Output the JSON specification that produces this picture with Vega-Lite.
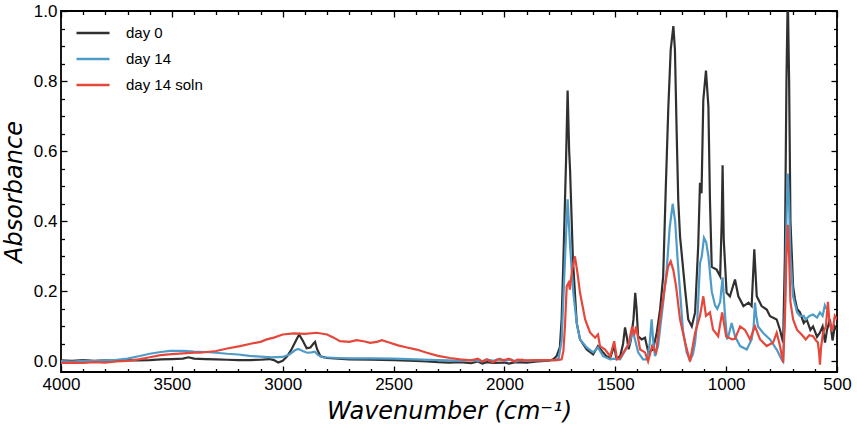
{
  "$schema": "https://vega.github.io/schema/vega-lite/v6.json",
  "width": 776,
  "height": 361,
  "autosize": {"type": "none"},
  "padding": {"left": 61, "top": 11, "right": 20, "bottom": 56},
  "background": "white",
  "config": {
    "view": {"stroke": "#000", "strokeWidth": 1.8},
    "axis": {
      "domain": false,
      "grid": false,
      "labelFont": "Liberation Sans",
      "labelFontSize": 17,
      "labelColor": "#000",
      "labelFlush": false,
      "labelOverlap": false,
      "tickColor": "#000",
      "tickWidth": 1.3,
      "titleFont": "DejaVu Sans",
      "titleFontStyle": "italic",
      "titleFontWeight": "normal",
      "titleFontSize": 24,
      "titleColor": "#000"
    },
    "legend": {
      "orient": "none",
      "legendX": 14,
      "legendY": 4,
      "title": null,
      "symbolType": "stroke",
      "symbolSize": 1089,
      "symbolStrokeWidth": 2.6,
      "labelFont": "Liberation Sans",
      "labelFontSize": 15,
      "labelColor": "#000",
      "labelOffset": 15,
      "rowPadding": -11
    }
  },
  "data": {
    "values": [
      {"s": "day 0", "x": 4000, "y": 0.003}, {"s": "day 0", "x": 3950, "y": 0.002}, {"s": "day 0", "x": 3900, "y": 0.004},
      {"s": "day 0", "x": 3850, "y": 0.002}, {"s": "day 0", "x": 3800, "y": 0.003}, {"s": "day 0", "x": 3750, "y": 0.002},
      {"s": "day 0", "x": 3700, "y": 0.004}, {"s": "day 0", "x": 3650, "y": 0.003}, {"s": "day 0", "x": 3600, "y": 0.004},
      {"s": "day 0", "x": 3550, "y": 0.006}, {"s": "day 0", "x": 3500, "y": 0.007}, {"s": "day 0", "x": 3450, "y": 0.008},
      {"s": "day 0", "x": 3425, "y": 0.012}, {"s": "day 0", "x": 3400, "y": 0.008}, {"s": "day 0", "x": 3350, "y": 0.007},
      {"s": "day 0", "x": 3300, "y": 0.006}, {"s": "day 0", "x": 3250, "y": 0.005}, {"s": "day 0", "x": 3200, "y": 0.004},
      {"s": "day 0", "x": 3150, "y": 0.004}, {"s": "day 0", "x": 3100, "y": 0.005}, {"s": "day 0", "x": 3060, "y": 0.007},
      {"s": "day 0", "x": 3040, "y": 0.004}, {"s": "day 0", "x": 3020, "y": -0.003}, {"s": "day 0", "x": 3000, "y": 0.002},
      {"s": "day 0", "x": 2980, "y": 0.015}, {"s": "day 0", "x": 2960, "y": 0.035}, {"s": "day 0", "x": 2940, "y": 0.06},
      {"s": "day 0", "x": 2926, "y": 0.077}, {"s": "day 0", "x": 2910, "y": 0.06}, {"s": "day 0", "x": 2892, "y": 0.038},
      {"s": "day 0", "x": 2875, "y": 0.04}, {"s": "day 0", "x": 2860, "y": 0.052}, {"s": "day 0", "x": 2854, "y": 0.056},
      {"s": "day 0", "x": 2845, "y": 0.035}, {"s": "day 0", "x": 2830, "y": 0.015}, {"s": "day 0", "x": 2800, "y": 0.01},
      {"s": "day 0", "x": 2750, "y": 0.008}, {"s": "day 0", "x": 2700, "y": 0.006}, {"s": "day 0", "x": 2600, "y": 0.005},
      {"s": "day 0", "x": 2500, "y": 0.004}, {"s": "day 0", "x": 2400, "y": 0.002}, {"s": "day 0", "x": 2350, "y": 0.0},
      {"s": "day 0", "x": 2300, "y": -0.002}, {"s": "day 0", "x": 2250, "y": -0.003}, {"s": "day 0", "x": 2200, "y": -0.002},
      {"s": "day 0", "x": 2150, "y": -0.005}, {"s": "day 0", "x": 2120, "y": 0.0}, {"s": "day 0", "x": 2100, "y": -0.006},
      {"s": "day 0", "x": 2080, "y": -0.002}, {"s": "day 0", "x": 2050, "y": -0.004}, {"s": "day 0", "x": 2000, "y": -0.003},
      {"s": "day 0", "x": 1980, "y": -0.006}, {"s": "day 0", "x": 1950, "y": -0.002}, {"s": "day 0", "x": 1900, "y": -0.003},
      {"s": "day 0", "x": 1850, "y": 0.0}, {"s": "day 0", "x": 1800, "y": 0.002}, {"s": "day 0", "x": 1780, "y": 0.006},
      {"s": "day 0", "x": 1765, "y": 0.015}, {"s": "day 0", "x": 1750, "y": 0.04}, {"s": "day 0", "x": 1742, "y": 0.12},
      {"s": "day 0", "x": 1734, "y": 0.29}, {"s": "day 0", "x": 1722, "y": 0.575}, {"s": "day 0", "x": 1715, "y": 0.773},
      {"s": "day 0", "x": 1708, "y": 0.6}, {"s": "day 0", "x": 1704, "y": 0.547}, {"s": "day 0", "x": 1691, "y": 0.29},
      {"s": "day 0", "x": 1674, "y": 0.11}, {"s": "day 0", "x": 1659, "y": 0.063}, {"s": "day 0", "x": 1629, "y": 0.034},
      {"s": "day 0", "x": 1600, "y": 0.02}, {"s": "day 0", "x": 1578, "y": 0.044}, {"s": "day 0", "x": 1555, "y": 0.026},
      {"s": "day 0", "x": 1540, "y": 0.015}, {"s": "day 0", "x": 1523, "y": 0.01}, {"s": "day 0", "x": 1505, "y": 0.045},
      {"s": "day 0", "x": 1495, "y": 0.008}, {"s": "day 0", "x": 1478, "y": 0.015}, {"s": "day 0", "x": 1465, "y": 0.05},
      {"s": "day 0", "x": 1456, "y": 0.097}, {"s": "day 0", "x": 1448, "y": 0.07}, {"s": "day 0", "x": 1440, "y": 0.035},
      {"s": "day 0", "x": 1430, "y": 0.06}, {"s": "day 0", "x": 1418, "y": 0.12}, {"s": "day 0", "x": 1410, "y": 0.196},
      {"s": "day 0", "x": 1404, "y": 0.15}, {"s": "day 0", "x": 1397, "y": 0.072}, {"s": "day 0", "x": 1381, "y": 0.063},
      {"s": "day 0", "x": 1366, "y": 0.068}, {"s": "day 0", "x": 1351, "y": 0.026}, {"s": "day 0", "x": 1330, "y": 0.034},
      {"s": "day 0", "x": 1313, "y": 0.082}, {"s": "day 0", "x": 1298, "y": 0.148}, {"s": "day 0", "x": 1284, "y": 0.243},
      {"s": "day 0", "x": 1272, "y": 0.5}, {"s": "day 0", "x": 1261, "y": 0.72}, {"s": "day 0", "x": 1250, "y": 0.89},
      {"s": "day 0", "x": 1238, "y": 0.957}, {"s": "day 0", "x": 1231, "y": 0.89}, {"s": "day 0", "x": 1223, "y": 0.65},
      {"s": "day 0", "x": 1216, "y": 0.46}, {"s": "day 0", "x": 1208, "y": 0.357}, {"s": "day 0", "x": 1185, "y": 0.205},
      {"s": "day 0", "x": 1171, "y": 0.12}, {"s": "day 0", "x": 1155, "y": 0.1}, {"s": "day 0", "x": 1140, "y": 0.14},
      {"s": "day 0", "x": 1126, "y": 0.33}, {"s": "day 0", "x": 1118, "y": 0.51}, {"s": "day 0", "x": 1111, "y": 0.48},
      {"s": "day 0", "x": 1103, "y": 0.746}, {"s": "day 0", "x": 1091, "y": 0.83}, {"s": "day 0", "x": 1080, "y": 0.727},
      {"s": "day 0", "x": 1073, "y": 0.46}, {"s": "day 0", "x": 1065, "y": 0.27}, {"s": "day 0", "x": 1043, "y": 0.262},
      {"s": "day 0", "x": 1027, "y": 0.243}, {"s": "day 0", "x": 1020, "y": 0.4}, {"s": "day 0", "x": 1016, "y": 0.56},
      {"s": "day 0", "x": 1011, "y": 0.35}, {"s": "day 0", "x": 998, "y": 0.196}, {"s": "day 0", "x": 983, "y": 0.186},
      {"s": "day 0", "x": 960, "y": 0.234}, {"s": "day 0", "x": 945, "y": 0.186}, {"s": "day 0", "x": 922, "y": 0.158},
      {"s": "day 0", "x": 899, "y": 0.168}, {"s": "day 0", "x": 885, "y": 0.158}, {"s": "day 0", "x": 873, "y": 0.32},
      {"s": "day 0", "x": 862, "y": 0.186}, {"s": "day 0", "x": 840, "y": 0.158}, {"s": "day 0", "x": 817, "y": 0.148},
      {"s": "day 0", "x": 802, "y": 0.129}, {"s": "day 0", "x": 772, "y": 0.12}, {"s": "day 0", "x": 757, "y": 0.09},
      {"s": "day 0", "x": 743, "y": 0.054}, {"s": "day 0", "x": 735, "y": 0.3}, {"s": "day 0", "x": 728, "y": 0.8},
      {"s": "day 0", "x": 722, "y": 1.05}, {"s": "day 0", "x": 716, "y": 0.8}, {"s": "day 0", "x": 710, "y": 0.4},
      {"s": "day 0", "x": 698, "y": 0.214}, {"s": "day 0", "x": 690, "y": 0.18}, {"s": "day 0", "x": 680, "y": 0.15},
      {"s": "day 0", "x": 667, "y": 0.14}, {"s": "day 0", "x": 650, "y": 0.11}, {"s": "day 0", "x": 637, "y": 0.12},
      {"s": "day 0", "x": 620, "y": 0.09}, {"s": "day 0", "x": 608, "y": 0.1}, {"s": "day 0", "x": 590, "y": 0.07},
      {"s": "day 0", "x": 577, "y": 0.082}, {"s": "day 0", "x": 565, "y": 0.1}, {"s": "day 0", "x": 554, "y": 0.054},
      {"s": "day 0", "x": 545, "y": 0.09}, {"s": "day 0", "x": 532, "y": 0.12}, {"s": "day 0", "x": 520, "y": 0.06},
      {"s": "day 0", "x": 510, "y": 0.1}, {"s": "day 0", "x": 500, "y": 0.09},

      {"s": "day 14", "x": 4000, "y": 0.001}, {"s": "day 14", "x": 3950, "y": 0.0}, {"s": "day 14", "x": 3900, "y": 0.002},
      {"s": "day 14", "x": 3850, "y": 0.001}, {"s": "day 14", "x": 3800, "y": 0.003}, {"s": "day 14", "x": 3750, "y": 0.005},
      {"s": "day 14", "x": 3700, "y": 0.008}, {"s": "day 14", "x": 3650, "y": 0.015}, {"s": "day 14", "x": 3600, "y": 0.022},
      {"s": "day 14", "x": 3550, "y": 0.027}, {"s": "day 14", "x": 3508, "y": 0.03}, {"s": "day 14", "x": 3450, "y": 0.03},
      {"s": "day 14", "x": 3400, "y": 0.028}, {"s": "day 14", "x": 3350, "y": 0.027}, {"s": "day 14", "x": 3300, "y": 0.025},
      {"s": "day 14", "x": 3250, "y": 0.022}, {"s": "day 14", "x": 3200, "y": 0.02}, {"s": "day 14", "x": 3150, "y": 0.016},
      {"s": "day 14", "x": 3100, "y": 0.014}, {"s": "day 14", "x": 3050, "y": 0.012}, {"s": "day 14", "x": 3000, "y": 0.013},
      {"s": "day 14", "x": 2970, "y": 0.02}, {"s": "day 14", "x": 2945, "y": 0.032}, {"s": "day 14", "x": 2930, "y": 0.036},
      {"s": "day 14", "x": 2910, "y": 0.03}, {"s": "day 14", "x": 2890, "y": 0.025}, {"s": "day 14", "x": 2870, "y": 0.026},
      {"s": "day 14", "x": 2855, "y": 0.028}, {"s": "day 14", "x": 2840, "y": 0.018}, {"s": "day 14", "x": 2820, "y": 0.012},
      {"s": "day 14", "x": 2750, "y": 0.01}, {"s": "day 14", "x": 2700, "y": 0.009}, {"s": "day 14", "x": 2600, "y": 0.009},
      {"s": "day 14", "x": 2500, "y": 0.008}, {"s": "day 14", "x": 2400, "y": 0.006}, {"s": "day 14", "x": 2300, "y": 0.004},
      {"s": "day 14", "x": 2250, "y": 0.003}, {"s": "day 14", "x": 2200, "y": 0.002}, {"s": "day 14", "x": 2150, "y": 0.004},
      {"s": "day 14", "x": 2100, "y": 0.0}, {"s": "day 14", "x": 2080, "y": 0.006}, {"s": "day 14", "x": 2050, "y": 0.002},
      {"s": "day 14", "x": 2020, "y": 0.008}, {"s": "day 14", "x": 2000, "y": 0.001}, {"s": "day 14", "x": 1970, "y": 0.006},
      {"s": "day 14", "x": 1950, "y": 0.0}, {"s": "day 14", "x": 1920, "y": 0.005}, {"s": "day 14", "x": 1900, "y": 0.002},
      {"s": "day 14", "x": 1850, "y": 0.003}, {"s": "day 14", "x": 1800, "y": 0.003}, {"s": "day 14", "x": 1770, "y": 0.004},
      {"s": "day 14", "x": 1755, "y": 0.01}, {"s": "day 14", "x": 1742, "y": 0.06}, {"s": "day 14", "x": 1727, "y": 0.29},
      {"s": "day 14", "x": 1715, "y": 0.463}, {"s": "day 14", "x": 1704, "y": 0.33}, {"s": "day 14", "x": 1689, "y": 0.195},
      {"s": "day 14", "x": 1674, "y": 0.11}, {"s": "day 14", "x": 1659, "y": 0.063}, {"s": "day 14", "x": 1629, "y": 0.04},
      {"s": "day 14", "x": 1600, "y": 0.026}, {"s": "day 14", "x": 1578, "y": 0.04}, {"s": "day 14", "x": 1555, "y": 0.015},
      {"s": "day 14", "x": 1523, "y": 0.006}, {"s": "day 14", "x": 1500, "y": 0.008}, {"s": "day 14", "x": 1478, "y": 0.006},
      {"s": "day 14", "x": 1448, "y": 0.04}, {"s": "day 14", "x": 1434, "y": 0.054}, {"s": "day 14", "x": 1422, "y": 0.09},
      {"s": "day 14", "x": 1410, "y": 0.06}, {"s": "day 14", "x": 1397, "y": 0.026}, {"s": "day 14", "x": 1375, "y": 0.006},
      {"s": "day 14", "x": 1357, "y": 0.006}, {"s": "day 14", "x": 1345, "y": 0.05}, {"s": "day 14", "x": 1336, "y": 0.12},
      {"s": "day 14", "x": 1328, "y": 0.05}, {"s": "day 14", "x": 1321, "y": 0.015}, {"s": "day 14", "x": 1307, "y": 0.044},
      {"s": "day 14", "x": 1284, "y": 0.168}, {"s": "day 14", "x": 1268, "y": 0.262}, {"s": "day 14", "x": 1255, "y": 0.38},
      {"s": "day 14", "x": 1241, "y": 0.45}, {"s": "day 14", "x": 1230, "y": 0.4}, {"s": "day 14", "x": 1220, "y": 0.3},
      {"s": "day 14", "x": 1208, "y": 0.2}, {"s": "day 14", "x": 1195, "y": 0.09}, {"s": "day 14", "x": 1178, "y": 0.026},
      {"s": "day 14", "x": 1163, "y": 0.003}, {"s": "day 14", "x": 1150, "y": 0.02}, {"s": "day 14", "x": 1140, "y": 0.054},
      {"s": "day 14", "x": 1130, "y": 0.12}, {"s": "day 14", "x": 1118, "y": 0.28}, {"s": "day 14", "x": 1110, "y": 0.3},
      {"s": "day 14", "x": 1100, "y": 0.353}, {"s": "day 14", "x": 1090, "y": 0.34}, {"s": "day 14", "x": 1080, "y": 0.3},
      {"s": "day 14", "x": 1065, "y": 0.2}, {"s": "day 14", "x": 1050, "y": 0.16}, {"s": "day 14", "x": 1040, "y": 0.15},
      {"s": "day 14", "x": 1027, "y": 0.17}, {"s": "day 14", "x": 1016, "y": 0.24}, {"s": "day 14", "x": 1006, "y": 0.14},
      {"s": "day 14", "x": 996, "y": 0.063}, {"s": "day 14", "x": 990, "y": 0.072}, {"s": "day 14", "x": 975, "y": 0.11},
      {"s": "day 14", "x": 960, "y": 0.072}, {"s": "day 14", "x": 937, "y": 0.044}, {"s": "day 14", "x": 907, "y": 0.034},
      {"s": "day 14", "x": 885, "y": 0.063}, {"s": "day 14", "x": 876, "y": 0.1}, {"s": "day 14", "x": 870, "y": 0.168},
      {"s": "day 14", "x": 864, "y": 0.13}, {"s": "day 14", "x": 856, "y": 0.1}, {"s": "day 14", "x": 834, "y": 0.082},
      {"s": "day 14", "x": 802, "y": 0.063}, {"s": "day 14", "x": 772, "y": 0.034}, {"s": "day 14", "x": 750, "y": 0.006},
      {"s": "day 14", "x": 743, "y": 0.0}, {"s": "day 14", "x": 735, "y": 0.15}, {"s": "day 14", "x": 728, "y": 0.4},
      {"s": "day 14", "x": 722, "y": 0.536}, {"s": "day 14", "x": 716, "y": 0.45}, {"s": "day 14", "x": 710, "y": 0.3},
      {"s": "day 14", "x": 698, "y": 0.186}, {"s": "day 14", "x": 680, "y": 0.14}, {"s": "day 14", "x": 667, "y": 0.13},
      {"s": "day 14", "x": 650, "y": 0.13}, {"s": "day 14", "x": 641, "y": 0.12}, {"s": "day 14", "x": 625, "y": 0.13},
      {"s": "day 14", "x": 608, "y": 0.134}, {"s": "day 14", "x": 590, "y": 0.125}, {"s": "day 14", "x": 577, "y": 0.14},
      {"s": "day 14", "x": 565, "y": 0.13}, {"s": "day 14", "x": 555, "y": 0.16}, {"s": "day 14", "x": 548, "y": 0.15},

      {"s": "day 14 soln", "x": 4000, "y": -0.004}, {"s": "day 14 soln", "x": 3950, "y": -0.003}, {"s": "day 14 soln", "x": 3900, "y": -0.004},
      {"s": "day 14 soln", "x": 3850, "y": -0.002}, {"s": "day 14 soln", "x": 3800, "y": -0.003}, {"s": "day 14 soln", "x": 3750, "y": 0.0},
      {"s": "day 14 soln", "x": 3700, "y": 0.002}, {"s": "day 14 soln", "x": 3650, "y": 0.006}, {"s": "day 14 soln", "x": 3600, "y": 0.012},
      {"s": "day 14 soln", "x": 3550, "y": 0.018}, {"s": "day 14 soln", "x": 3500, "y": 0.021}, {"s": "day 14 soln", "x": 3450, "y": 0.023},
      {"s": "day 14 soln", "x": 3400, "y": 0.025}, {"s": "day 14 soln", "x": 3373, "y": 0.025}, {"s": "day 14 soln", "x": 3300, "y": 0.03},
      {"s": "day 14 soln", "x": 3250, "y": 0.037}, {"s": "day 14 soln", "x": 3193, "y": 0.044}, {"s": "day 14 soln", "x": 3150, "y": 0.05},
      {"s": "day 14 soln", "x": 3100, "y": 0.056}, {"s": "day 14 soln", "x": 3072, "y": 0.063}, {"s": "day 14 soln", "x": 3040, "y": 0.068},
      {"s": "day 14 soln", "x": 3000, "y": 0.077}, {"s": "day 14 soln", "x": 2950, "y": 0.08}, {"s": "day 14 soln", "x": 2900, "y": 0.079},
      {"s": "day 14 soln", "x": 2847, "y": 0.082}, {"s": "day 14 soln", "x": 2800, "y": 0.077}, {"s": "day 14 soln", "x": 2770, "y": 0.068},
      {"s": "day 14 soln", "x": 2742, "y": 0.058}, {"s": "day 14 soln", "x": 2700, "y": 0.056}, {"s": "day 14 soln", "x": 2666, "y": 0.061},
      {"s": "day 14 soln", "x": 2630, "y": 0.057}, {"s": "day 14 soln", "x": 2606, "y": 0.053}, {"s": "day 14 soln", "x": 2575, "y": 0.056},
      {"s": "day 14 soln", "x": 2553, "y": 0.061}, {"s": "day 14 soln", "x": 2520, "y": 0.054}, {"s": "day 14 soln", "x": 2480, "y": 0.046},
      {"s": "day 14 soln", "x": 2440, "y": 0.04}, {"s": "day 14 soln", "x": 2396, "y": 0.034}, {"s": "day 14 soln", "x": 2350, "y": 0.025},
      {"s": "day 14 soln", "x": 2300, "y": 0.016}, {"s": "day 14 soln", "x": 2245, "y": 0.01}, {"s": "day 14 soln", "x": 2200, "y": 0.006},
      {"s": "day 14 soln", "x": 2150, "y": 0.003}, {"s": "day 14 soln", "x": 2120, "y": 0.008}, {"s": "day 14 soln", "x": 2100, "y": 0.0},
      {"s": "day 14 soln", "x": 2080, "y": 0.006}, {"s": "day 14 soln", "x": 2050, "y": -0.002}, {"s": "day 14 soln", "x": 2030, "y": 0.006},
      {"s": "day 14 soln", "x": 2000, "y": 0.004}, {"s": "day 14 soln", "x": 1980, "y": 0.008}, {"s": "day 14 soln", "x": 1960, "y": 0.0},
      {"s": "day 14 soln", "x": 1940, "y": 0.005}, {"s": "day 14 soln", "x": 1900, "y": 0.003}, {"s": "day 14 soln", "x": 1850, "y": 0.004},
      {"s": "day 14 soln", "x": 1800, "y": 0.004}, {"s": "day 14 soln", "x": 1760, "y": 0.004}, {"s": "day 14 soln", "x": 1742, "y": 0.006},
      {"s": "day 14 soln", "x": 1734, "y": 0.03}, {"s": "day 14 soln", "x": 1727, "y": 0.1}, {"s": "day 14 soln", "x": 1719, "y": 0.215},
      {"s": "day 14 soln", "x": 1710, "y": 0.225}, {"s": "day 14 soln", "x": 1705, "y": 0.205}, {"s": "day 14 soln", "x": 1695, "y": 0.26},
      {"s": "day 14 soln", "x": 1682, "y": 0.3}, {"s": "day 14 soln", "x": 1670, "y": 0.25}, {"s": "day 14 soln", "x": 1659, "y": 0.196},
      {"s": "day 14 soln", "x": 1636, "y": 0.12}, {"s": "day 14 soln", "x": 1614, "y": 0.083}, {"s": "day 14 soln", "x": 1591, "y": 0.068},
      {"s": "day 14 soln", "x": 1578, "y": 0.077}, {"s": "day 14 soln", "x": 1569, "y": 0.044}, {"s": "day 14 soln", "x": 1546, "y": 0.034},
      {"s": "day 14 soln", "x": 1523, "y": 0.015}, {"s": "day 14 soln", "x": 1505, "y": 0.058}, {"s": "day 14 soln", "x": 1492, "y": 0.006},
      {"s": "day 14 soln", "x": 1478, "y": 0.01}, {"s": "day 14 soln", "x": 1455, "y": 0.034}, {"s": "day 14 soln", "x": 1440, "y": 0.05},
      {"s": "day 14 soln", "x": 1424, "y": 0.1}, {"s": "day 14 soln", "x": 1415, "y": 0.075}, {"s": "day 14 soln", "x": 1406, "y": 0.1},
      {"s": "day 14 soln", "x": 1398, "y": 0.07}, {"s": "day 14 soln", "x": 1388, "y": 0.034}, {"s": "day 14 soln", "x": 1366, "y": 0.026},
      {"s": "day 14 soln", "x": 1352, "y": 0.0}, {"s": "day 14 soln", "x": 1334, "y": 0.044}, {"s": "day 14 soln", "x": 1316, "y": 0.026},
      {"s": "day 14 soln", "x": 1298, "y": 0.12}, {"s": "day 14 soln", "x": 1276, "y": 0.215}, {"s": "day 14 soln", "x": 1262, "y": 0.27},
      {"s": "day 14 soln", "x": 1250, "y": 0.286}, {"s": "day 14 soln", "x": 1238, "y": 0.26}, {"s": "day 14 soln", "x": 1226, "y": 0.215},
      {"s": "day 14 soln", "x": 1208, "y": 0.12}, {"s": "day 14 soln", "x": 1185, "y": 0.054}, {"s": "day 14 soln", "x": 1163, "y": 0.0},
      {"s": "day 14 soln", "x": 1140, "y": 0.082}, {"s": "day 14 soln", "x": 1118, "y": 0.13}, {"s": "day 14 soln", "x": 1103, "y": 0.186},
      {"s": "day 14 soln", "x": 1091, "y": 0.13}, {"s": "day 14 soln", "x": 1073, "y": 0.14}, {"s": "day 14 soln", "x": 1059, "y": 0.091},
      {"s": "day 14 soln", "x": 1036, "y": 0.072}, {"s": "day 14 soln", "x": 1018, "y": 0.14}, {"s": "day 14 soln", "x": 1000, "y": 0.072},
      {"s": "day 14 soln", "x": 973, "y": 0.063}, {"s": "day 14 soln", "x": 960, "y": 0.065}, {"s": "day 14 soln", "x": 937, "y": 0.1},
      {"s": "day 14 soln", "x": 915, "y": 0.09}, {"s": "day 14 soln", "x": 892, "y": 0.063}, {"s": "day 14 soln", "x": 870, "y": 0.1},
      {"s": "day 14 soln", "x": 847, "y": 0.063}, {"s": "day 14 soln", "x": 817, "y": 0.044}, {"s": "day 14 soln", "x": 788, "y": 0.054},
      {"s": "day 14 soln", "x": 772, "y": 0.082}, {"s": "day 14 soln", "x": 757, "y": 0.044}, {"s": "day 14 soln", "x": 743, "y": -0.003},
      {"s": "day 14 soln", "x": 735, "y": 0.12}, {"s": "day 14 soln", "x": 728, "y": 0.3}, {"s": "day 14 soln", "x": 722, "y": 0.39},
      {"s": "day 14 soln", "x": 716, "y": 0.3}, {"s": "day 14 soln", "x": 710, "y": 0.17}, {"s": "day 14 soln", "x": 698, "y": 0.12},
      {"s": "day 14 soln", "x": 680, "y": 0.09}, {"s": "day 14 soln", "x": 667, "y": 0.082}, {"s": "day 14 soln", "x": 650, "y": 0.07},
      {"s": "day 14 soln", "x": 641, "y": 0.063}, {"s": "day 14 soln", "x": 625, "y": 0.075}, {"s": "day 14 soln", "x": 608, "y": 0.072},
      {"s": "day 14 soln", "x": 595, "y": 0.06}, {"s": "day 14 soln", "x": 586, "y": 0.054}, {"s": "day 14 soln", "x": 580, "y": 0.02},
      {"s": "day 14 soln", "x": 577, "y": -0.009}, {"s": "day 14 soln", "x": 572, "y": 0.04}, {"s": "day 14 soln", "x": 563, "y": 0.082},
      {"s": "day 14 soln", "x": 550, "y": 0.1}, {"s": "day 14 soln", "x": 541, "y": 0.17}, {"s": "day 14 soln", "x": 535, "y": 0.12},
      {"s": "day 14 soln", "x": 525, "y": 0.09}, {"s": "day 14 soln", "x": 518, "y": 0.097}, {"s": "day 14 soln", "x": 510, "y": 0.13},
      {"s": "day 14 soln", "x": 500, "y": 0.12}
    ]
  },
  "resolve": {"axis": {"x": "independent", "y": "independent"}},
  "layer": [
    {
      "transform": [{"filter": "datum.s === 'day 0'"}],
      "mark": {"type": "line", "strokeWidth": 2.2, "clip": true},
      "encoding": {
        "x": {
          "field": "x", "type": "quantitative",
          "scale": {"domain": [500, 4000], "reverse": true, "nice": false, "zero": false},
          "axis": {
            "orient": "bottom",
            "title": "Wavenumber (cm⁻¹)",
            "values": [500, 600, 700, 800, 900, 1000, 1100, 1200, 1300, 1400, 1500, 1600, 1700, 1800, 1900, 2000, 2100, 2200, 2300, 2400, 2500, 2600, 2700, 2800, 2900, 3000, 3100, 3200, 3300, 3400, 3500, 3600, 3700, 3800, 3900, 4000],
            "labelExpr": "datum.value % 500 === 0 ? format(datum.value, 'd') : ''",
            "tickSize": {"condition": {"test": "datum.value % 500 === 0", "value": -6}, "value": -3.5},
            "labelPadding": 10,
            "titlePadding": 5
          }
        },
        "y": {
          "field": "y", "type": "quantitative",
          "scale": {"domain": [-0.03, 1.0], "nice": false, "zero": false},
          "axis": {
            "orient": "left",
            "title": "Absorbance",
            "values": [0, 0.05, 0.1, 0.15, 0.2, 0.25, 0.3, 0.35, 0.4, 0.45, 0.5, 0.55, 0.6, 0.65, 0.7, 0.75, 0.8, 0.85, 0.9, 0.95, 1.0],
            "labelExpr": "round(datum.value * 100) % 20 === 0 ? format(datum.value, '.1f') : ''",
            "tickSize": {"condition": {"test": "round(datum.value * 100) % 20 === 0", "value": -6}, "value": -3.5},
            "labelPadding": 10,
            "titlePadding": 7
          }
        },
        "color": {
          "field": "s", "type": "nominal",
          "scale": {"domain": ["day 0", "day 14", "day 14 soln"], "range": ["#303030", "#4f9bc8", "#e5473b"]}
        }
      }
    },
    {
      "transform": [{"filter": "datum.s === 'day 14'"}],
      "mark": {"type": "line", "strokeWidth": 2.2, "clip": true},
      "encoding": {
        "x": {
          "field": "x", "type": "quantitative",
          "axis": {
            "orient": "top",
            "title": null,
            "labels": false,
            "values": [500, 600, 700, 800, 900, 1000, 1100, 1200, 1300, 1400, 1500, 1600, 1700, 1800, 1900, 2000, 2100, 2200, 2300, 2400, 2500, 2600, 2700, 2800, 2900, 3000, 3100, 3200, 3300, 3400, 3500, 3600, 3700, 3800, 3900, 4000],
            "tickSize": {"condition": {"test": "datum.value % 500 === 0", "value": -6}, "value": -3.5}
          }
        },
        "y": {
          "field": "y", "type": "quantitative",
          "axis": {
            "orient": "right",
            "title": null,
            "labels": false,
            "values": [0, 0.05, 0.1, 0.15, 0.2, 0.25, 0.3, 0.35, 0.4, 0.45, 0.5, 0.55, 0.6, 0.65, 0.7, 0.75, 0.8, 0.85, 0.9, 0.95, 1.0],
            "tickSize": {"condition": {"test": "round(datum.value * 100) % 20 === 0", "value": -6}, "value": -3.5}
          }
        },
        "color": {"field": "s", "type": "nominal"}
      }
    },
    {
      "transform": [{"filter": "datum.s === 'day 14 soln'"}],
      "mark": {"type": "line", "strokeWidth": 2.2, "clip": true},
      "encoding": {
        "x": {"field": "x", "type": "quantitative", "axis": null},
        "y": {"field": "y", "type": "quantitative", "axis": null},
        "color": {"field": "s", "type": "nominal"}
      }
    }
  ]
}
